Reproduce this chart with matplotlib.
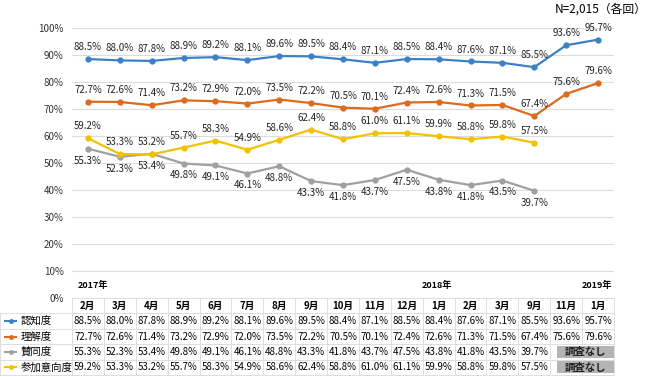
import numpy as np
import matplotlib
matplotlib.use("Agg")
from matplotlib import pyplot as plt
from matplotlib.patches import Rectangle

plt.rcParams['font.family'] = ['Noto Sans CJK JP', 'DejaVu Sans']

# データ
months = ["2月", "3月", "4月", "5月", "6月", "7月", "8月", "9月", "10月", "11月", "12月",
          "1月", "2月", "3月", "9月", "11月", "1月"]
years = {"2017年": 0, "2018年": 11, "2019年": 16}
series_names = ["認知度", "理解度", "賛同度", "参加意向度"]
ninchi = [88.5, 88.0, 87.8, 88.9, 89.2, 88.1, 89.6, 89.5, 88.4, 87.1, 88.5, 88.4, 87.6, 87.1, 85.5, 93.6, 95.7]
rikai = [72.7, 72.6, 71.4, 73.2, 72.9, 72.0, 73.5, 72.2, 70.5, 70.1, 72.4, 72.6, 71.3, 71.5, 67.4, 75.6, 79.6]
sando = [55.3, 52.3, 53.4, 49.8, 49.1, 46.1, 48.8, 43.3, 41.8, 43.7, 47.5, 43.8, 41.8, 43.5, 39.7, None, None]
sanka = [59.2, 53.3, 53.2, 55.7, 58.3, 54.9, 58.6, 62.4, 58.8, 61.0, 61.1, 59.9, 58.8, 59.8, 57.5, None, None]
colors = ["#3d80c6", "#dd6a1d", "#a0a0a0", "#f2c200"]

W, H = 650, 377
fig = plt.figure(figsize=(W / 100, H / 100), dpi=100)
left, right, top, zero = 72, 614, 28, 298
ax = fig.add_axes([left / W, (H - zero) / H, (right - left) / W, (zero - top) / H])

x = np.arange(len(months))
all_series = [ninchi, rikai, sando, sanka]
for name, vals, col in zip(series_names, all_series, colors):
    y = np.array([np.nan if v is None else v for v in vals], dtype=float)
    ax.plot(x, y, color=col, lw=1.6, marker="o", ms=3.5, zorder=3)
    below = name == "賛同度"
    for xi, v in zip(x, vals):
        if v is None:
            continue
        ax.annotate(f"{v:.1f}%", (xi, v), xytext=(0, -5 if below else 5),
                    textcoords="offset points", ha="center",
                    va="top" if below else "bottom", fontsize=7, color="#222222")

ax.set_xlim(-0.5, len(months) - 0.5)
ax.set_ylim(0, 100)
ax.set_yticks(range(0, 101, 10))
ax.set_yticklabels([f"{t}%" for t in range(0, 101, 10)], fontsize=7, color="#333333")
ax.set_xticks([])
ax.tick_params(axis="y", length=0, pad=6)
ax.grid(axis="y", color="#dcdcdc", lw=0.8)
ax.set_axisbelow(True)
for s in ax.spines.values():
    s.set_visible(False)

for label, idx in years.items():
    shift = 0.17 if idx == 0 else -0.05
    ax.text(idx + shift, 4.5, label, fontsize=6.5, fontweight="bold", ha="center", va="center")

fig.text(647 / W, 1 - 9 / H, "N=2,015（各回）", fontsize=8.5, ha="right", va="center")

# データテーブル
tab = fig.add_axes([left / W, (H - 375) / H, (right - left) / W, 77 / H])
tab.set_xlim(-0.5, len(months) - 0.5)
tab.set_ylim(5, 0)
tab.axis("off")
line_col = "#dddddd"
col_w = (right - left) / len(months)
leg_left = -0.5 - left / col_w
for i in range(len(months) + 1):
    tab.plot([i - 0.5, i - 0.5], [0, 5], color=line_col, lw=0.7, clip_on=False)
tab.plot([leg_left, leg_left], [1, 5], color=line_col, lw=0.7, clip_on=False)
tab.plot([-0.5, len(months) - 0.5], [0, 0], color=line_col, lw=0.7, clip_on=False)
for r in range(1, 6):
    tab.plot([leg_left, len(months) - 0.5], [r, r], color=line_col, lw=0.7, clip_on=False)

for i, m in enumerate(months):
    tab.text(i, 0.5, m, ha="center", va="center", fontsize=7, fontweight="bold")

for r, (name, vals, col) in enumerate(zip(series_names, all_series, colors), start=1):
    x_a, x_b = leg_left + 4 / col_w, leg_left + 17 / col_w
    tab.plot([x_a, x_b], [r + 0.5, r + 0.5], color=col, lw=1.5, clip_on=False,
             solid_capstyle="butt")
    tab.plot([(x_a + x_b) / 2], [r + 0.5], color=col, marker="o", ms=2.5, clip_on=False)
    tab.text(leg_left + 21 / col_w, r + 0.5, name, ha="left", va="center", fontsize=7.5)
    for i, v in enumerate(vals):
        if v is not None:
            tab.text(i, r + 0.5, f"{v:.1f}%", ha="center", va="center", fontsize=7)
    missing = [i for i, v in enumerate(vals) if v is None]
    if missing:
        x0, x1 = min(missing) - 0.3, max(missing) + 0.5
        tab.add_patch(Rectangle((x0, r + 0.12), x1 - x0, 0.76, facecolor="#b4b4b4",
                                edgecolor="none", clip_on=False))
        tab.text((x0 + x1) / 2, r + 0.5, "調査なし", ha="center", va="center",
                 fontsize=7.5, fontweight="bold", color="#222222")

plt.savefig("out.png", dpi=100)
